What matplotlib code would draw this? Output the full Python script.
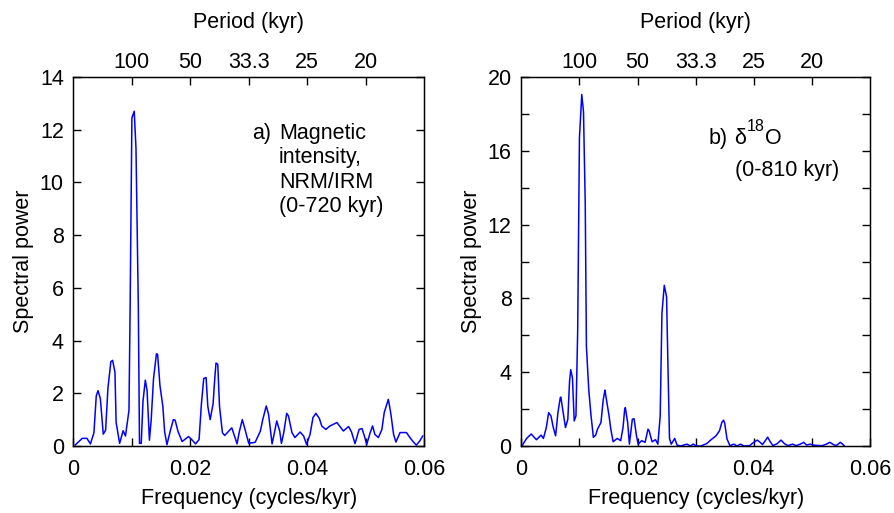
import matplotlib
matplotlib.use("Agg")
import matplotlib.pyplot as plt
from matplotlib.ticker import MultipleLocator

plt.rcParams['font.family'] = ['Liberation Sans', 'DejaVu Sans']

# Panel a: magnetic intensity spectrum
freq_a = [0.0003, 0.0015, 0.0023, 0.0029, 0.0035, 0.0039, 0.0042, 0.0046, 0.0051, 0.0055,
          0.0059, 0.0064, 0.0067, 0.0071, 0.0073, 0.0079, 0.0085, 0.0089, 0.0095, 0.0097,
          0.0100, 0.0104, 0.0107, 0.0111, 0.0113, 0.0116, 0.0119, 0.0123, 0.0126, 0.0130,
          0.0133, 0.0137, 0.0142, 0.0144, 0.0148, 0.0153, 0.0156, 0.0160, 0.0166, 0.0171,
          0.0174, 0.0179, 0.0186, 0.0197, 0.0203, 0.0209, 0.0215, 0.0219, 0.0223, 0.0227,
          0.0230, 0.0234, 0.0239, 0.0242, 0.0244, 0.0247, 0.0250, 0.0255, 0.0259, 0.0271,
          0.0277, 0.0280, 0.0284, 0.0289, 0.0294, 0.0300, 0.0311, 0.0320, 0.0324, 0.0330,
          0.0334, 0.0340, 0.0344, 0.0348, 0.0353, 0.0356, 0.0360, 0.0365, 0.0368, 0.0374,
          0.0379, 0.0388, 0.0394, 0.0399, 0.0405, 0.0410, 0.0415, 0.0421, 0.0425, 0.0432,
          0.0439, 0.0451, 0.0462, 0.0471, 0.0476, 0.0482, 0.0489, 0.0494, 0.0498, 0.0502,
          0.0508, 0.0512, 0.0516, 0.0522, 0.0528, 0.0532, 0.0539, 0.0543, 0.0548, 0.0552,
          0.0559, 0.0570, 0.0576, 0.0582, 0.0587, 0.0593, 0.0598]
power_a = [0.04, 0.29, 0.29, 0.08, 0.5, 1.9, 2.1, 1.8, 0.45, 0.6,
           2.2, 3.2, 3.25, 2.8, 0.9, 0.1, 0.58, 0.38, 1.35, 5.3,
           12.45, 12.7, 11.3, 5.3, 0.1, 0.1, 1.7, 2.5, 2.1, 0.22,
           0.98, 2.55, 3.5, 3.48, 2.3, 1.5, 0.55, 0.05, 0.6, 1.0,
           0.98, 0.55, 0.17, 0.36, 0.23, 0.08, 0.24, 1.6, 2.56, 2.6,
           1.5, 1.0, 1.6, 2.6, 3.15, 3.1, 1.5, 0.5, 0.4, 0.69,
           0.29, 0.08, 0.55, 1.0, 0.6, 0.1, 0.14, 0.57, 1.0, 1.52,
           1.2, 0.08, 0.51, 0.95, 0.57, 0.1, 0.51, 1.24, 1.14, 0.51,
           0.32, 0.53, 0.38, 0.06, 0.44, 1.08, 1.24, 1.04, 0.76, 0.63,
           0.76, 0.89, 0.57, 0.74, 0.53, 0.09, 0.63, 0.66, 0.38, 0.06,
           0.51, 0.76, 0.44, 0.32, 0.63, 1.27, 1.77, 1.27, 0.44, 0.15,
           0.51, 0.51, 0.32, 0.15, 0.03, 0.2, 0.38]

# Panel b: d18O spectrum
freq_b = [0.0002, 0.0009, 0.0017, 0.0026, 0.0034, 0.0038, 0.0043, 0.0047, 0.0051, 0.0055,
          0.0059, 0.0063, 0.0067, 0.0068, 0.0072, 0.0076, 0.0080, 0.0083, 0.0085, 0.0088,
          0.0091, 0.0094, 0.0097, 0.0100, 0.0104, 0.0107, 0.0110, 0.0112, 0.0116, 0.0120,
          0.0124, 0.0128, 0.0131, 0.0137, 0.0141, 0.0144, 0.0145, 0.0151, 0.0154, 0.0158,
          0.0165, 0.0171, 0.0175, 0.0178, 0.0179, 0.0183, 0.0186, 0.0191, 0.0194, 0.0198,
          0.0201, 0.0207, 0.0213, 0.0218, 0.0220, 0.0225, 0.0231, 0.0235, 0.0239, 0.0242,
          0.0246, 0.0250, 0.0252, 0.0255, 0.0258, 0.0264, 0.0268,
          0.0274, 0.0285, 0.0291, 0.0296, 0.0301, 0.0309, 0.0319, 0.0328, 0.0335, 0.0341,
          0.0345, 0.0348, 0.0350, 0.0354, 0.0359, 0.0366, 0.0371, 0.0377, 0.0383, 0.0393,
          0.0400, 0.0406, 0.0411, 0.0415, 0.0419, 0.0424, 0.0428, 0.0433, 0.0440, 0.0447,
          0.0453, 0.0459, 0.0467, 0.0473, 0.0480, 0.0486, 0.0491, 0.0497, 0.0503, 0.0509,
          0.0518, 0.0525, 0.0531, 0.0537, 0.0542, 0.0549, 0.0553, 0.0556]
power_b = [0.05, 0.41, 0.65, 0.34, 0.59, 0.41, 1.0, 1.81, 1.63, 1.0,
           0.55, 1.81, 2.62, 2.65, 1.81, 1.0, 1.45, 3.51, 4.14, 3.69,
           1.36, 1.63, 6.29, 16.7, 19.05, 18.1, 13.1, 5.4, 3.06, 1.63,
           0.47, 0.59, 0.91, 1.27, 2.52, 3.03, 2.8, 1.63, 0.91, 0.23,
           0.41, 0.29, 1.0, 2.03, 2.08, 1.27, 0.1, 1.45, 1.48, 0.59,
           0.1, 0.29, 0.2, 0.91, 0.82, 0.23, 0.34, 0.1, 1.63, 7.19,
           8.71, 8.08, 4.86, 0.41, 0.1, 0.41, 0.05,
           0.0, 0.1, 0.0, 0.1, 0.0, 0.0, 0.13, 0.38, 0.55, 0.82,
           1.27, 1.4, 1.24, 0.38, 0.02, 0.1, 0.0, 0.1, 0.0, 0.02,
           0.2, 0.32, 0.2, 0.08, 0.25, 0.48, 0.25, 0.02, 0.12, 0.32,
           0.12, 0.02, 0.1, 0.02, 0.1, 0.2, 0.05, 0.1, 0.05, 0.03,
           0.02, 0.1, 0.2, 0.08, 0.02, 0.2, 0.1, 0.0]

period_ticks = [0.01, 0.02, 0.03, 0.04, 0.05]
period_labels = ["100", "50", "33.3", "25", "20"]

FS = 15.5
fig = plt.figure(figsize=(8.95, 5.13), dpi=100)


def setup(ax, ymax, ymajor, yminor):
    ax.set_xlim(0, 0.06)
    ax.set_ylim(0, ymax)
    ax.xaxis.set_major_locator(MultipleLocator(0.02))
    ax.xaxis.set_minor_locator(MultipleLocator(0.01))
    ax.yaxis.set_major_locator(MultipleLocator(ymajor))
    ax.yaxis.set_minor_locator(MultipleLocator(yminor))
    ax.xaxis.set_major_formatter(plt.FuncFormatter(lambda v, p: "0" if v == 0 else f"{v:.2f}"))
    ax.tick_params(which="both", direction="in", length=6, width=1, top=False, right=True,
                   labelsize=FS)
    ax.tick_params(axis="x", pad=9)
    ax.tick_params(axis="y", pad=7)
    ax.set_xlabel("Frequency (cycles/kyr)", fontsize=FS, labelpad=6)
    ax.set_ylabel("Spectral power", fontsize=FS, labelpad=4)
    for s in ax.spines.values():
        s.set_linewidth(1)
    top = ax.twiny()
    top.set_xlim(0, 0.06)
    top.set_xticks(period_ticks)
    top.set_xticklabels(period_labels)
    top.tick_params(direction="in", length=6, width=1, labelsize=FS, pad=3)
    top.set_xlabel("Period (kyr)", fontsize=FS, labelpad=17)


ax1 = fig.add_axes([0.0821, 0.1306, 0.3916, 0.7193])
ax1.plot(freq_a, power_a, color="#0000ff", lw=1.1)
setup(ax1, 14, 2, 2)
ax1.text(0.0306, 12.25, "a)", fontsize=FS, va="top")
ax1.text(0.0352, 12.25, "Magnetic\nintensity,\nNRM/IRM\n(0-720 kyr)", fontsize=FS,
         va="top", linespacing=1.2)

ax2 = fig.add_axes([0.5825, 0.1306, 0.3895, 0.7193])
ax2.plot(freq_b, power_b, color="#0000ff", lw=1.1)
setup(ax2, 20, 4, 2)
ax2.text(0.0322, 16.35, "b)", fontsize=FS, va="baseline")
ax2.text(0.0367, 16.35, "δ", fontsize=FS, va="baseline")
ax2.text(0.0388, 17.1, "18", fontsize=11.5, va="baseline")
ax2.text(0.0419, 16.35, "O", fontsize=FS, va="baseline")
ax2.text(0.0367, 14.65, "(0-810 kyr)", fontsize=FS, va="baseline")

fig.savefig("out.png", dpi=100)
